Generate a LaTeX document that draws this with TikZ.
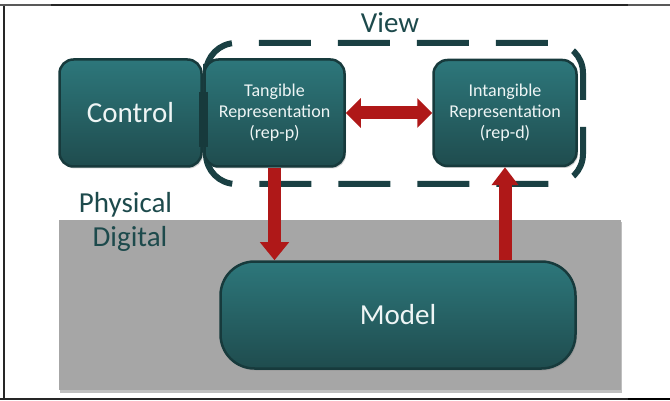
\documentclass[tikz,border=0pt]{standalone}
\usepackage{fontspec}
\setmainfont{Carlito}
\usetikzlibrary{arrows.meta,shadows}
\definecolor{boxtop}{HTML}{2D777B}
\definecolor{boxbot}{HTML}{1F4C4E}
\definecolor{boxline}{HTML}{173A3C}
\definecolor{dashc}{HTML}{1A4043}
\definecolor{arrowred}{HTML}{AF1818}
\definecolor{grayarea}{HTML}{A6A6A6}
\definecolor{labelc}{HTML}{1D4A4C}
\definecolor{boxtext}{HTML}{EEF5F5}
\begin{document}
\begin{tikzpicture}[x=1pt,y=-1pt,
  box/.style={draw=boxline, line width=2.5pt, rounded corners=14pt,
    top color=boxtop, bottom color=boxbot, text=boxtext, align=center,
    inner sep=0pt,
    drop shadow={shadow xshift=1.5pt, shadow yshift=-2pt, opacity=0.35}},
  smalltext/.style={font=\fontsize{18}{21}\selectfont},
  bigtext/.style={font=\fontsize{29}{32}\selectfont},
  label/.style={text=labelc, font=\fontsize{29}{32}\selectfont, inner sep=0pt, anchor=base},
  redarrow/.style={draw=arrowred, line width=13pt},
  frameline/.style={draw=black!85, line width=1.5pt}]
\useasboundingbox (0,0) rectangle (670,401);

% frame
\draw[frameline] (0,5) -- (670,5);
\draw[frameline] (4,5) -- (4,399);
\draw[frameline] (0,399) -- (670,399);
\draw[draw=gray!70!black, line width=2.2pt] (0,5) -- (51,5);
\draw[draw=gray!70!black, line width=2.2pt] (628,5) -- (670,5);
\draw[draw=black, line width=2.2pt] (628,399) -- (670,399);

% digital area
\fill[grayarea, drop shadow={shadow xshift=1pt, shadow yshift=-2.5pt, opacity=0.5}] (59,220) rectangle (621,390);

% view dashed boundary
\draw[dashc, line width=6pt, dash pattern=on 52pt off 27pt, dash phase=65pt,
  rounded corners=30pt] (206,80) -- (206,43) -- (583,43) -- (583,184) -- (206,184) -- cycle;

% labels
\node[label] (view) at (390,33) {View};
\node[label] (physical) at (125.5,212) {Physical};
\node[label] (digital) at (130,247) {Digital};

% boxes
\node[box, bigtext, minimum width=142pt, minimum height=107pt] (control) at (130.5,113) {Control};
\node[box, smalltext, minimum width=140pt, minimum height=107pt] (tang) at (274.5,113) {Tangible\\Representation\\(rep-p)};
\node[box, smalltext, minimum width=143pt, minimum height=106pt] (intang) at (505,113) {Intangible\\Representation\\(rep-d)};
\node[box, bigtext, rounded corners=34pt, minimum width=355pt, minimum height=107pt] (model) at (398,315) {Model};

% joint between control and tangible
\fill[boxline] (198.5,92) rectangle (207.5,147);

% arrows
\draw[redarrow, {Triangle[length=15pt,width=29pt]}-{Triangle[length=15pt,width=29pt]}] (tang.east) -- (intang.west);
\draw[redarrow, -{Triangle[length=18pt,width=28pt]}] (tang.south) -- (model.north -| tang.south);
\draw[redarrow, -{Triangle[length=18pt,width=26pt]}] (model.north -| intang.south) -- (intang.south);
\end{tikzpicture}
\end{document}
